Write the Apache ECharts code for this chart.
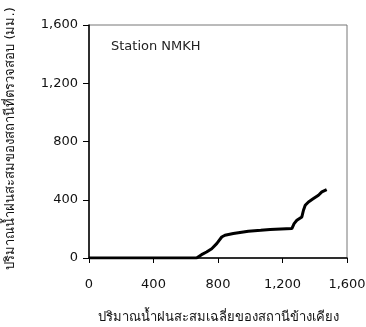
<!DOCTYPE html>
<html>
<head>
<meta charset="utf-8">
<script src="https://cdn.jsdelivr.net/npm/echarts@6/dist/echarts.min.js"></script>
<style>
  html, body { margin: 0; padding: 0; background: #fff; }
  #chart { width: 366px; height: 327px; }
</style>
</head>
<body>
<div id="chart"></div>
<script>
"use strict";

// cumulative average rainfall of neighbouring stations (mm)
const neighborRain = [0, 300, 667, 698, 729, 761, 792, 823, 843, 895, 988, 1065, 1123, 1258, 1272, 1289, 1320, 1330, 1341, 1361, 1392, 1423, 1444, 1474];
// cumulative rainfall of the checked station (mm)
const stationRain = [0, 0, 0, 23, 41, 64, 99, 144, 156, 168, 184, 190, 195, 202, 236, 259, 282, 328, 362, 385, 408, 431, 454, 470];

const axisTicks = { min: 0, max: 1600, interval: 400 };
const stationName = "Station NMKH";
const xName = "ปริมาณน้ำฝนสะสมเฉลี่ยของสถานีข้างเคียง";
const yName = "ปริมาณน้ำฝนสะสมของสถานีที่ตรวจสอบ (มม.)";

const font = "'DejaVu Sans', Tahoma, 'Noto Sans', sans-serif";

const chart = echarts.init(document.getElementById("chart"));

const points = neighborRain.map((x, i) => [x, stationRain[i]]);

const axisCommon = {
  type: "value",
  ...axisTicks,
  nameLocation: "middle",
  axisLine: { show: true, lineStyle: { color: "#000", width: 1.5 } },
  axisTick: { show: true, inside: false, length: 5, lineStyle: { color: "#000", width: 1 } },
  splitLine: { show: false },
  axisLabel: {
    color: "#111",
    fontSize: 13,
    fontFamily: font,
    formatter: (v) => v.toLocaleString("en-US"),
  },
  nameTextStyle: { color: "#111", fontSize: 13, fontFamily: font },
};

chart.setOption({
  animation: false,
  backgroundColor: "#fff",
  title: {
    text: stationName,
    left: 106,
    top: 35,
    textStyle: { color: "#222", fontSize: 13, fontWeight: "normal", fontFamily: font },
  },
  grid: {
    left: 89,
    right: 19,
    top: 25,
    bottom: 69,
    outerBoundsMode: "none",
    containLabel: false,
    show: true,
    borderColor: "#777",
    borderWidth: 1,
  },
  xAxis: {
    ...axisCommon,
    name: xName,
    nameGap: 53,
    axisLabel: { ...axisCommon.axisLabel, margin: 20 },
  },
  yAxis: {
    ...axisCommon,
    name: yName,
    nameGap: 72,
    nameTextStyle: { ...axisCommon.nameTextStyle, padding: [0, 0, 0, 6] },
    axisTick: { ...axisCommon.axisTick, length: 6 },
    axisLabel: { ...axisCommon.axisLabel, margin: 11 },
  },
  series: [
    {
      type: "line",
      data: points,
      symbol: "none",
      smooth: false,
      lineStyle: { color: "#000", width: 3 },
    },
  ],
});
</script>
</body>
</html>
